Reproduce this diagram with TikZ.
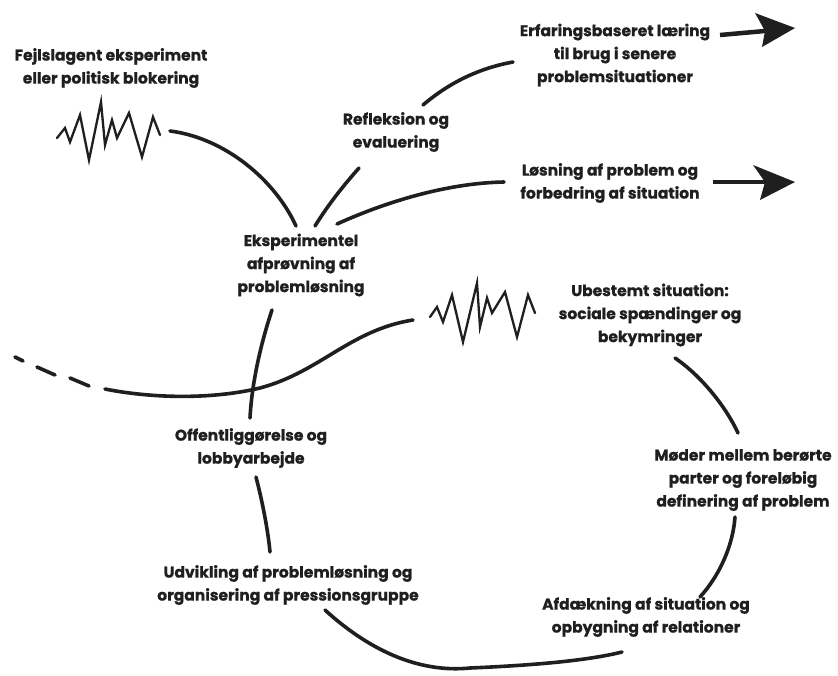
\documentclass[tikz,border=0pt]{standalone}
\usepackage{fontspec}
\setmainfont{Poppins}[BoldFeatures={FakeBold=0.8}]
\begin{document}
\begin{tikzpicture}[x=1pt,y=-1pt,
  lbl/.style={align=center,font=\bfseries\fontsize{15.5}{23}\selectfont,text=black!88,inner sep=0pt},
  curve/.style={line width=3.6pt,line cap=round,draw=black!88},
  zig/.style={line width=2.3pt,line join=miter,line cap=round,draw=black!88},
  head/.style={fill=black!88}]
\fill[white] (0,0) rectangle (838,675);
\useasboundingbox (0,0) rectangle (838,675);

% labels
\node[lbl] (fejl) at (111,68) {Fejlslagent eksperiment\\eller politisk blokering};
\node[lbl] (erf) at (615,55) {Erfaringsbaseret læring\\til brug i senere\\problemsituationer};
\node[lbl] (refl) at (396,132) {Refleksion og\\evaluering};
\node[lbl] (los) at (610,183) {Løsning af problem og\\forbedring af situation};
\node[lbl] (eks) at (301,265) {Eksperimentel\\afprøvning af\\problemløsning};
\node[lbl] (ube) at (650,315) {Ubestemt situation:\\sociale spændinger og\\bekymringer};
\node[lbl] (off) at (251,448) {Offentliggørelse og\\lobbyarbejde};
\node[lbl] (mod) at (743,480) {Møder mellem berørte\\parter og foreløbig\\definering af problem};
\node[lbl] (udv) at (288,585) {Udvikling af problemløsning og\\organisering af pressionsgruppe};
\node[lbl] (afd) at (646,617) {Afdækning af situation og\\opbygning af relationer};

% named ends
\coordinate (z1e) at (170,131);
\coordinate (eksL) at (296,226);
\coordinate (eksM) at (315,226);
\coordinate (eksR) at (337,224);
\coordinate (reflB) at (359,168);
\coordinate (reflT) at (423,105);
\coordinate (erfL) at (513,62);
\coordinate (losL) at (504,182);
\coordinate (eksB) at (272,310);
\coordinate (offT) at (250,418);
\coordinate (sS) at (105,389);
\coordinate (sE) at (413,320);
\coordinate (ubeB) at (675,358);
\coordinate (modT) at (738,433);
\coordinate (modB) at (735,517);
\coordinate (afdT) at (700,597);
\coordinate (afdL) at (622,652);
\coordinate (udvB) at (325,610);
\coordinate (offB) at (256,477);
\coordinate (udvT) at (270,552);

% zigzag top-left
\draw[zig] (57,138) -- (65,128) -- (70,142) -- (80,115) -- (89,160) -- (101,102) -- (105,145) -- (112,120) -- (117,138) -- (129,113) -- (142,157) -- (153,117) -- (160,135);
% zigzag centre
\draw[zig] (430,317) -- (437,307) -- (443,322) -- (452,295) -- (463,342) -- (477,283) -- (480,327) -- (487,298) -- (492,313) -- (505,292) -- (517,337) -- (528,295) -- (535,313);

% curves
\draw[curve] (z1e) .. controls (225,138) and (275,180) .. (eksL);
\draw[curve] (eksM) .. controls (328,205) and (343,186) .. (reflB);
\draw[curve] (reflT) .. controls (450,82) and (480,68) .. (erfL);
\draw[curve] (eksR) .. controls (390,200) and (450,183) .. (losL);
\draw[curve] (eksB) .. controls (262,340) and (252,380) .. (offT);
\draw[curve] (sS) .. controls (150,398) and (210,400) .. (260,388) .. controls (320,372) and (350,330) .. (sE);
\draw[curve] (15,357) -- (23,361);
\draw[curve] (37,367) -- (55,375);
\draw[curve] (70,378) -- (89,386);
\draw[curve] (ubeB) .. controls (700,375) and (725,405) .. (modT);
\draw[curve] (modB) .. controls (733,545) and (720,575) .. (afdT);
\draw[curve] (udvB) .. controls (380,660) and (430,672) .. (470,668) .. controls (540,665) and (590,660) .. (afdL);
\draw[curve] (offB) .. controls (262,500) and (268,530) .. (udvT);

% arrows
\coordinate (a1s) at (720,35);
\coordinate (a1t) at (795,28);
\draw[line width=4.5pt,draw=black!88] (a1s) -- (765,31);
\fill[head] (a1t) -- (755,13) -- (765,31) -- (762,47) -- cycle;
\coordinate (a2s) at (713,182);
\coordinate (a2t) at (795,182);
\draw[line width=4.5pt,draw=black!88] (a2s) -- (765,182);
\fill[head] (a2t) -- (753,165) -- (765,182) -- (760,200) -- cycle;
\end{tikzpicture}
\end{document}
